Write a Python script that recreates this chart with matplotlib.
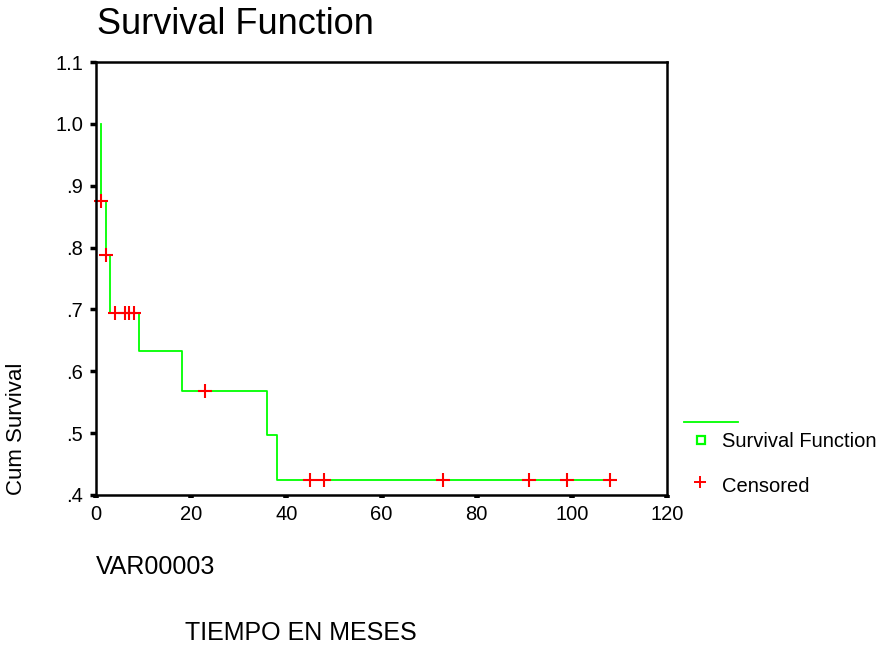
"""Kaplan-Meier survival plot (SPSS style)"""

import numpy as np
import matplotlib
matplotlib.use('Agg')
from matplotlib import pyplot as plt
from matplotlib.lines import Line2D

plt.rcParams['font.family'] = ['Liberation Sans', 'DejaVu Sans']

# step points of the survival curve (time in months, cumulative survival)
event_times = [1, 1, 2, 3, 9, 18, 36, 38, 108]
survival = [1.0, 0.875, 0.7875, 0.695, 0.632, 0.568, 0.497, 0.425, 0.425]

# censored observations
censor_times = [1, 2, 4, 6, 7, 8, 23, 45, 48, 73, 91, 99, 108]

yticks = [0.4, 0.5, 0.6, 0.7, 0.8, 0.9, 1.0, 1.1]
ytick_labels = ['.4', '.5', '.6', '.7', '.8', '.9', '1.0', '1.1']
xticks = [0, 20, 40, 60, 80, 100, 120]

green = '#00ff00'
red = '#ff0000'

fig = plt.figure(figsize=(8.94, 6.52), dpi=100)
ax = fig.add_axes([0.1074, 0.2408, 0.6387, 0.6641])

ax.step(event_times, survival, where='post', color=green, lw=1.3)

# survival value at each censored time
idx = np.searchsorted(event_times, censor_times, side='right') - 1
censor_surv = [survival[i] for i in idx]
ax.plot(censor_times, censor_surv, ls='none', marker='+', color=red,
        markersize=9.5, mew=1.5, clip_on=False)

ax.set_xlim(0, 120)
ax.set_ylim(0.4, 1.1)
ax.set_xticks(xticks)
ax.set_yticks(yticks)
ax.set_yticklabels(ytick_labels)
ax.tick_params(axis='x', direction='out', length=2.5, width=4, labelsize=14.5, pad=5)
ax.tick_params(axis='y', direction='out', length=4.3, width=2.5, labelsize=14.5, pad=5)
for s in ax.spines.values():
    s.set_linewidth(1.8)
ax.set_ylabel('Cum Survival', fontsize=16)
ax.yaxis.set_label_coords(-0.12, 0.152)

fig.text(0.108, 0.962, 'Survival Function', fontsize=26, va='center', ha='left')
fig.text(0.107, 0.130, 'VAR00003', fontsize=18, va='center', ha='left')
fig.text(0.207, 0.029, 'TIEMPO EN MESES', fontsize=18, va='center', ha='left')

# legend drawn by hand, SPSS layout
fig.add_artist(Line2D([0.765, 0.826], [0.353, 0.353], color=green, lw=1.3,
                      transform=fig.transFigure))
fig.add_artist(Line2D([0.784], [0.325], ls='none', marker='s', markersize=5.5,
                      mfc='none', mec=green, mew=1.6, transform=fig.transFigure))
fig.text(0.808, 0.3225, 'Survival Function', fontsize=14.5, va='center', ha='left')
fig.add_artist(Line2D([0.7835], [0.26], ls='none', marker='+', markersize=9,
                      color=red, mew=1.4, transform=fig.transFigure))
fig.text(0.808, 0.2546, 'Censored', fontsize=14.5, va='center', ha='left')

plt.savefig('out.png', dpi=100)
